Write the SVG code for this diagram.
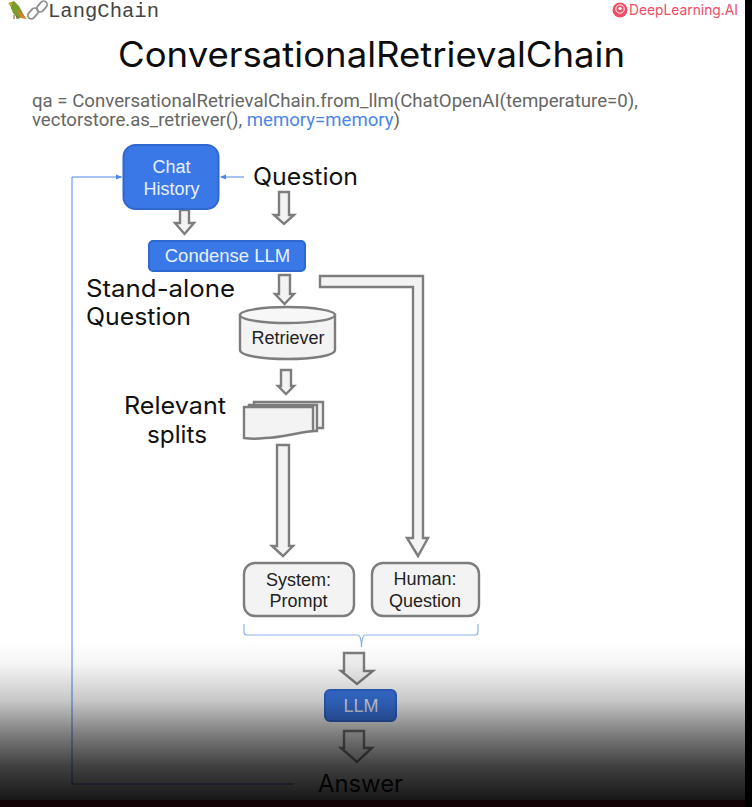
<svg xmlns="http://www.w3.org/2000/svg" width="752" height="807" viewBox="0 0 752 807">
<style>
.sans{font-family:"Liberation Sans",Arial,sans-serif}
.geo{font-family:"Inter","Noto Sans",sans-serif;fill:#111}
.arrow{fill:#f3f3f3;stroke:#7d7d7d;stroke-width:2.4;stroke-linejoin:miter}
.blue{fill:#3b78e7;stroke:#2f68cf;stroke-width:2}
.grey{fill:#f3f3f3;stroke:#7d7d7d;stroke-width:2.4}
.lab{font-size:18px;fill:#222;text-anchor:middle}
.wh{font-size:18px;fill:#e8f0ff;text-anchor:middle}
.thin{fill:none;stroke:#4a86e8;stroke-width:1}
.big{font-size:24px}
</style>
<defs>
<linearGradient id="fade" gradientUnits="userSpaceOnUse" x1="0" y1="640" x2="0" y2="800">
<stop offset="0" stop-color="#000" stop-opacity="0"/>
<stop offset="0.15" stop-color="#000" stop-opacity="0.04"/>
<stop offset="0.38" stop-color="#000" stop-opacity="0.22"/>
<stop offset="0.58" stop-color="#000" stop-opacity="0.5"/>
<stop offset="0.79" stop-color="#000" stop-opacity="0.75"/>
<stop offset="1" stop-color="#000" stop-opacity="0.91"/>
</linearGradient>
</defs>
<rect width="752" height="807" fill="#fff"/>
<g id="logo-langchain">
<path d="M9 3 L14 1 L19 6 L26 19 L22 17 L18 19 L13 13 Z" fill="#7c9a2e"/>
<path d="M17 9 L27 19 L21 18 Z" fill="#d9822b"/>
<path d="M8 3 L12 2 L12 7 Z" fill="#c9a227"/>
<path d="M14 15 L14 19 M17 16 L17 19" stroke="#6b4a2a" stroke-width="1"/>
<rect x="27" y="10" width="12" height="7" rx="3.500" transform="rotate(-50 33 13.500)" fill="none" stroke="#8f8f8f" stroke-width="1.800"/>
<rect x="36" y="3" width="12" height="7" rx="3.500" transform="rotate(-50 42 6.500)" fill="none" stroke="#8f8f8f" stroke-width="1.800"/>
<text x="48" y="17" font-family="'Liberation Mono',monospace" font-size="20" fill="#444" textLength="111" lengthAdjust="spacingAndGlyphs">LangChain</text>
</g>
<g id="logo-deeplearning">
<circle cx="620" cy="10" r="7.500" fill="#ee4f66"/>
<circle cx="620" cy="9" r="4.200" fill="none" stroke="#fff" stroke-width="1"/>
<circle cx="620" cy="8.600" r="1.700" fill="#fff"/>
<text x="629" y="15" font-family="Inter,'Noto Sans',sans-serif" font-size="14.500" fill="#ee4f66" textLength="109" lengthAdjust="spacingAndGlyphs">DeepLearning.AI</text>
</g>
<text id="title" x="118" y="67" font-family="Inter,'Noto Sans',sans-serif" font-size="35" fill="#0d0d0d" textLength="507" lengthAdjust="spacingAndGlyphs">ConversationalRetrievalChain</text>
<g id="code" font-family="Roboto,'Liberation Sans',sans-serif" font-size="18" fill="#666">
<text x="32" y="107" textLength="606" lengthAdjust="spacingAndGlyphs">qa = ConversationalRetrievalChain.from_llm(ChatOpenAI(temperature=0),</text>
<text x="32" y="126" textLength="368" lengthAdjust="spacingAndGlyphs">vectorstore.as_retriever(), <tspan fill="#4a86e8">memory=memory</tspan>)</text>
</g>
<g id="connectors">
<path class="thin" d="M294 784 H72 V177 H122"/>
<path d="M122 177 L116 174.500 V179.500 Z" fill="#4a86e8"/>
<path class="thin" d="M244 177 H221"/>
<path d="M220 177 L226 174.500 V179.500 Z" fill="#4a86e8"/>
<path class="arrow" d="M180 210 H189 V223 H194 L184.500 234 L175 223 H180 Z"/>
<path class="arrow" d="M279 192 H289 V215 H294 L284 224 L274 215 H279 Z"/>
<path class="arrow" d="M279 275 H290 V294 H294 L284.500 304 L275 294 H279 Z"/>
<path class="arrow" d="M320 276 H423 V538 H428 L418 556 L407 538 H413 V287 H320 Z"/>
<path class="arrow" d="M281 370 H291 V386 H294 L286 394 L278 386 H281 Z"/>
<path class="arrow" d="M277 445 H289 V546 H293 L283 556 L272 546 H277 Z"/>
<path class="arrow" d="M344 653 H364 V671 H373 L357 684 L341 671 H344 Z"/>
<path class="arrow" d="M344 731 H364 V748 H372 L357 762 L341 748 H344 Z"/>
<path d="M244 624 V632 Q244 635 247 635 H358 Q361 635 361.500 647 Q362 635 365 635 H475 Q478 635 478 632 V624" fill="none" stroke="#8fb0ea" stroke-width="1.200"/>
</g>
<g id="node-chat-history">
<rect class="blue" x="123.500" y="145" width="95" height="64" rx="12"/>
<text class="sans wh" x="171.500" y="173">Chat</text>
<text class="sans wh" x="171.500" y="195">History</text>
</g>
<g id="label-question"><text class="geo big" x="253" y="185" textLength="105" lengthAdjust="spacingAndGlyphs">Question</text></g>
<g id="node-condense-llm">
<rect class="blue" x="149" y="241" width="156" height="30" rx="4"/>
<text class="sans wh" x="227.500" y="262" style="font-size:18.500px">Condense LLM</text>
</g>
<g id="label-standalone">
<text class="geo big" x="86" y="297" textLength="149" lengthAdjust="spacingAndGlyphs">Stand-alone</text>
<text class="geo big" x="86" y="325" textLength="105" lengthAdjust="spacingAndGlyphs">Question</text>
</g>
<g id="node-retriever">
<path class="grey" d="M240 315 V350 C240 362 335 362 335 350 V315 Z"/>
<ellipse class="grey" cx="287.500" cy="315" rx="47.500" ry="8" style="fill:#f7f7f7"/>
<text class="sans lab" x="288" y="344">Retriever</text>
</g>
<g id="label-relevant">
<text class="geo big" x="175" y="414" text-anchor="middle" textLength="102" lengthAdjust="spacingAndGlyphs">Relevant</text>
<text class="geo big" x="177" y="443" text-anchor="middle" textLength="60" lengthAdjust="spacingAndGlyphs">splits</text>
</g>
<g id="node-relevant-splits">
<path class="grey" d="M254 402 H323 V428 H254 Z"/>
<path class="grey" d="M249 405 H317 V431 H249 Z"/>
<path class="grey" d="M244 407 H313 V431 C295 433 280 438 265 438 C258 439 250 439 244 438 Z"/>
</g>
<g id="node-system-prompt">
<rect class="grey" x="244" y="563" width="110" height="53" rx="11"/>
<text class="sans lab" x="298.500" y="586">System:</text>
<text class="sans lab" x="298.500" y="607">Prompt</text>
</g>
<g id="node-human-question">
<rect class="grey" x="372" y="563" width="107" height="53" rx="11"/>
<text class="sans lab" x="425" y="585">Human:</text>
<text class="sans lab" x="425" y="607">Question</text>
</g>
<g id="node-llm">
<rect class="blue" x="325" y="690" width="71" height="31" rx="5"/>
<text class="sans wh" x="361" y="712">LLM</text>
</g>
<g id="label-answer"><text class="geo big" x="318" y="792" textLength="85" lengthAdjust="spacingAndGlyphs">Answer</text></g>
<rect id="fade-overlay" x="0" y="640" width="745" height="160" fill="url(#fade)"/>
<rect id="bottom-strip" x="0" y="800" width="745" height="7" fill="#120406"/>
<rect id="right-strip" x="745" y="0" width="7" height="807" fill="#000"/>
</svg>
